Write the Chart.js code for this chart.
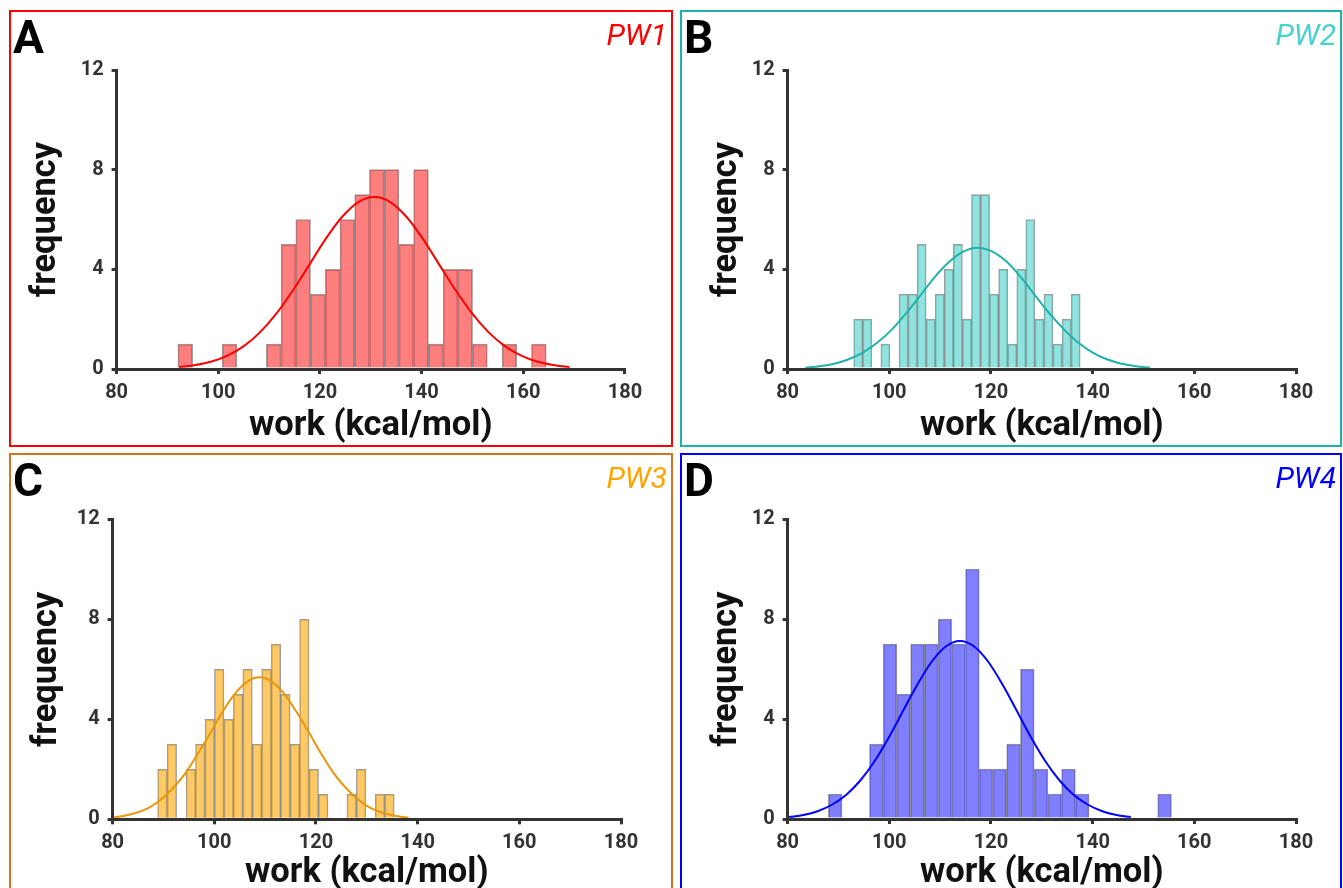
<!DOCTYPE html>
<html>
<head>
<meta charset="utf-8">
<script src="https://cdn.jsdelivr.net/npm/chart.js@4.4.1/dist/chart.umd.min.js"></script>
<style>
  html, body { margin: 0; padding: 0; background: #fff; width: 1343px; height: 888px; overflow: hidden; }
  .panel { position: absolute; box-sizing: border-box; border: 2px solid; }
  .panel canvas { position: absolute; left: 0; top: 0; }
  .letter { position: absolute; left: 2px; top: 2px; font: 700 46px/46px Roboto, sans-serif; color: #000; }
  .tag { position: absolute; right: 4px; top: 8px; font: italic 400 30px/30px Roboto, sans-serif; }
</style>
</head>
<body>
<div class="panel" style="left:9px;top:10px;width:664px;height:437px;border-color:#ff0000">
  <canvas id="chartPW1" width="660" height="433"></canvas>
  <div class="letter">A</div><div class="tag" style="color:#ff0000">PW1</div>
</div>
<div class="panel" style="left:680px;top:10px;width:662px;height:437px;border-color:#20b2aa">
  <canvas id="chartPW2" width="658" height="433"></canvas>
  <div class="letter">B</div><div class="tag" style="color:#48d1cc">PW2</div>
</div>
<div class="panel" style="left:9px;top:453px;width:664px;height:450px;border-color:#d2741e">
  <canvas id="chartPW3" width="660" height="446"></canvas>
  <div class="letter">C</div><div class="tag" style="color:#ffa500">PW3</div>
</div>
<div class="panel" style="left:680px;top:453px;width:662px;height:450px;border-color:#0000ff">
  <canvas id="chartPW4" width="658" height="446"></canvas>
  <div class="letter">D</div><div class="tag" style="color:#0000ff">PW4</div>
</div>

<script>
// Shared axis ticks
const xTicks = [80, 100, 120, 140, 160, 180];
const yTicks = [0, 4, 8, 12];

// PW1 work histogram (25 bins) and fitted normal curve
const pw1BinStart = 92.07;
const pw1BinWidth = 2.898;
const pw1Counts = [1, 0, 0, 1, 0, 0, 1, 5, 6, 3, 4, 6, 7, 8, 8, 5, 8, 1, 4, 4, 1, 0, 1, 0, 1];
const pw1FitX = [92.3, 95.5, 98.7, 101.9, 105.1, 108.3, 111.5, 114.7, 117.9, 121.1, 124.3, 127.5, 130.7,
                 133.9, 137.1, 140.3, 143.5, 146.7, 149.9, 153.1, 156.3, 159.5, 162.7, 165.9, 169.1];
const pw1FitY = [0.08, 0.16, 0.30, 0.55, 0.93, 1.49, 2.24, 3.16, 4.18, 5.21, 6.09, 6.69, 6.90,
                 6.69, 6.09, 5.21, 4.18, 3.16, 2.24, 1.49, 0.93, 0.55, 0.30, 0.16, 0.08];

// PW2
const pw2BinStart = 93.0;
const pw2BinWidth = 1.782;
const pw2Counts = [2, 2, 0, 1, 0, 3, 3, 5, 2, 3, 4, 5, 2, 7, 7, 3, 4, 1, 4, 6, 2, 3, 1, 2, 3];
const pw2FitX = [83.5, 86.3, 89.2, 92.0, 94.8, 97.6, 100.5, 103.3, 106.1, 108.9, 111.8, 114.6, 117.4,
                 120.2, 123.1, 125.9, 128.7, 131.5, 134.4, 137.2, 140.0, 142.8, 145.7, 148.5, 151.3];
const pw2FitY = [0.05, 0.11, 0.21, 0.39, 0.66, 1.05, 1.58, 2.23, 2.95, 3.68, 4.30, 4.72, 4.87,
                 4.72, 4.30, 3.68, 2.95, 2.23, 1.58, 1.05, 0.66, 0.39, 0.21, 0.11, 0.05];

// PW3
const pw3BinStart = 88.87;
const pw3BinWidth = 1.861;
const pw3Counts = [2, 3, 0, 2, 3, 4, 6, 4, 5, 6, 3, 6, 7, 5, 3, 8, 2, 1, 0, 0, 1, 2, 0, 1, 1];
const pw3FitX = [79.7, 82.1, 84.5, 87.0, 89.4, 91.8, 94.3, 96.7, 99.2, 101.6, 104.0, 106.5, 108.9,
                 111.3, 113.8, 116.2, 118.7, 121.1, 123.5, 126.0, 128.4, 130.8, 133.3, 135.7, 138.2];
const pw3FitY = [0.06, 0.13, 0.25, 0.45, 0.77, 1.23, 1.84, 2.60, 3.44, 4.29, 5.01, 5.51, 5.68,
                 5.51, 5.01, 4.29, 3.44, 2.60, 1.84, 1.23, 0.77, 0.45, 0.25, 0.13, 0.06];

// PW4
const pw4BinStart = 88.0;
const pw4BinWidth = 2.70;
const pw4Counts = [1, 0, 0, 3, 7, 5, 7, 7, 8, 7, 10, 2, 2, 3, 6, 2, 1, 2, 1, 0, 0, 0, 0, 0, 1];
const pw4FitX = [80.3, 83.1, 85.9, 88.7, 91.5, 94.3, 97.1, 99.9, 102.7, 105.5, 108.3, 111.1, 113.9,
                 116.7, 119.5, 122.3, 125.1, 127.9, 130.7, 133.5, 136.3, 139.1, 141.9, 144.7, 147.5];
const pw4FitY = [0.08, 0.16, 0.31, 0.57, 0.96, 1.54, 2.31, 3.26, 4.32, 5.37, 6.28, 6.90, 7.12,
                 6.90, 6.28, 5.37, 4.32, 3.26, 2.31, 1.54, 0.96, 0.57, 0.31, 0.16, 0.08];

// Per-panel layout and styling (canvas coordinates)
const panels = [
  { id: 'chartPW1', start: pw1BinStart, width: pw1BinWidth, counts: pw1Counts, fitX: pw1FitX, fitY: pw1FitY,
    bar: 'rgba(255,0,0,0.5)', line: '#ff0000',
    area: { left: 105.6, top: 58, right: 613.9, bottom: 357 }, yTitleX: 35, xTitleY: 414 },
  { id: 'chartPW2', start: pw2BinStart, width: pw2BinWidth, counts: pw2Counts, fitX: pw2FitX, fitY: pw2FitY,
    bar: 'rgba(72,209,204,0.6)', line: '#20b2aa',
    area: { left: 105.6, top: 58, right: 614, bottom: 357 }, yTitleX: 45, xTitleY: 414 },
  { id: 'chartPW3', start: pw3BinStart, width: pw3BinWidth, counts: pw3Counts, fitX: pw3FitX, fitY: pw3FitY,
    bar: 'rgba(255,165,0,0.6)', line: '#e8960a',
    area: { left: 101.6, top: 64.3, right: 610, bottom: 364.3 }, yTitleX: 36, xTitleY: 418 },
  { id: 'chartPW4', start: pw4BinStart, width: pw4BinWidth, counts: pw4Counts, fitX: pw4FitX, fitY: pw4FitY,
    bar: 'rgba(0,0,255,0.5)', line: '#0000ff',
    area: { left: 105.6, top: 64, right: 614, bottom: 364 }, yTitleX: 45, xTitleY: 418 }
];

const axisColor = '#333333';
const tickFont = { family: 'Roboto', weight: 'bold', size: 20 };
const titleFont = { family: 'Roboto', weight: 'bold', size: 34.5 };
const titleHalfLine = titleFont.size * 1.2 / 2;

function buildChart(p) {
  const canvas = document.getElementById(p.id);
  const W = canvas.width, H = canvas.height;

  // histogram bars at bin centres (empty bins are left out)
  const bars = p.counts
    .map((c, i) => ({ x: p.start + (i + 0.5) * p.width, y: c }))
    .filter(d => d.y > 0);
  const fit = p.fitX.map((x, i) => ({ x: x, y: p.fitY[i] }));

  new Chart(canvas, {
    type: 'bar',
    data: {
      datasets: [
        {
          type: 'line', data: fit, order: 0,
          borderColor: p.line, borderWidth: 2, pointRadius: 0,
          cubicInterpolationMode: 'monotone', fill: false
        },
        {
          type: 'bar', data: bars, order: 1,
          backgroundColor: p.bar, borderColor: 'rgba(80,80,80,0.55)', borderWidth: 1,
          barPercentage: 1, categoryPercentage: 1
        }
      ]
    },
    options: {
      responsive: false,
      animation: false,
      devicePixelRatio: 1,
      layout: { padding: { left: 0, top: p.area.top, right: W - p.area.right, bottom: 0 } },
      plugins: { legend: { display: false }, tooltip: { enabled: false } },
      scales: {
        x: {
          type: 'linear', min: xTicks[0], max: xTicks[xTicks.length - 1], offset: false,
          afterBuildTicks: sc => { sc.ticks = xTicks.map(v => ({ value: v })); },
          ticks: { font: tickFont, color: axisColor, padding: 7, maxRotation: 0, autoSkip: false },
          grid: { drawOnChartArea: false, drawTicks: true, tickLength: 5, color: axisColor, lineWidth: 3, offset: false },
          border: { display: true, color: axisColor, width: 3, z: 1 },
          title: { display: true, text: 'work (kcal/mol)', font: titleFont, color: '#111',
                   padding: { top: 0, bottom: H - p.xTitleY - titleHalfLine } },
          afterFit: sc => { sc.height = H - p.area.bottom; }
        },
        y: {
          type: 'linear', min: yTicks[0], max: yTicks[yTicks.length - 1],
          afterBuildTicks: sc => { sc.ticks = yTicks.map(v => ({ value: v })); },
          ticks: { font: tickFont, color: axisColor, padding: 8 },
          grid: { drawOnChartArea: false, drawTicks: true, tickLength: 5, color: axisColor, lineWidth: 3 },
          border: { display: true, color: axisColor, width: 3, z: 1 },
          title: { display: true, text: 'frequency', font: titleFont, color: '#111',
                   padding: { top: p.yTitleX - titleHalfLine, bottom: 0 } },
          afterFit: sc => { sc.width = p.area.left; }
        }
      }
    }
  });
}

panels.forEach(buildChart);
</script>
</body>
</html>
